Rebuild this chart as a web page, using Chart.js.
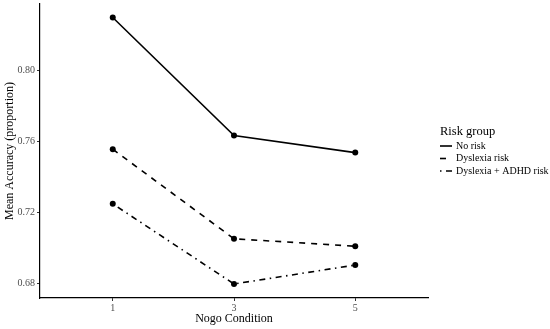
<!DOCTYPE html>
<html>
<head>
<meta charset="utf-8">
<script src="https://cdn.jsdelivr.net/npm/chart.js@4"></script>
<style>
  html, body { margin: 0; padding: 0; background: #fff; }
  #wrap { width: 550px; height: 329px; position: relative; }
</style>
</head>
<body>
<div id="wrap"><canvas id="chart"></canvas></div>
<script>
const conditions = [1, 3, 5];
const groups = ['No risk', 'Dyslexia risk', 'Dyslexia + ADHD risk'];
const noRisk = [0.830, 0.7634, 0.7538];
const dyslexiaRisk = [0.7557, 0.7052, 0.7010];
const dyslexiaAdhdRisk = [0.7249, 0.6797, 0.6904];
const yTicks = [0.68, 0.72, 0.76, 0.80];

const serif = '"Liberation Serif", "DejaVu Serif", serif';
const dashes = [[], [6, 6], [1.5, 4.5, 6, 4.5]];
const seriesValues = [noRisk, dyslexiaRisk, dyslexiaAdhdRisk];

const datasets = groups.map((name, i) => ({
    label: name,
    data: conditions.map((c, j) => ({ x: c, y: seriesValues[i][j] })),
    borderColor: '#000',
    backgroundColor: '#000',
    borderWidth: 1.6,
    borderDash: dashes[i],
    pointRadius: 3,
    pointHoverRadius: 3,
    pointBorderWidth: 0,
    showLine: true,
    tension: 0
}));

// legend drawn on the canvas in the reserved right margin
const sideLegend = {
    id: 'sideLegend',
    afterDraw(chart) {
        const ctx = chart.ctx;
        ctx.save();
        ctx.fillStyle = '#000';
        ctx.textBaseline = 'middle';
        ctx.textAlign = 'left';
        ctx.font = '12.5px ' + serif;
        ctx.fillText('Risk group', 440, 132);
        ctx.font = '10px ' + serif;
        chart.data.datasets.forEach((ds, i) => {
            const y = 146 + i * 12.5;
            ctx.beginPath();
            ctx.setLineDash(ds.borderDash);
            ctx.lineWidth = ds.borderWidth;
            ctx.strokeStyle = ds.borderColor;
            ctx.moveTo(440, y);
            ctx.lineTo(452, y);
            ctx.stroke();
            ctx.setLineDash([]);
            ctx.fillStyle = '#000';
            ctx.fillText(ds.label, 456, y);
        });
        ctx.restore();
    }
};

new Chart(document.getElementById('chart'), {
    type: 'scatter',
    data: { datasets: datasets },
    plugins: [sideLegend],
    options: {
        responsive: true,
        maintainAspectRatio: false,
        animation: false,
        layout: { padding: { top: 4, right: 122, bottom: 0, left: 0 } },
        plugins: {
            legend: { display: false },
            tooltip: { enabled: false }
        },
        scales: {
            x: {
                type: 'linear',
                min: -0.2,
                max: 6.2,
                afterBuildTicks: (scale) => {
                    scale.ticks = conditions.map(v => ({ value: v }));
                },
                afterFit: (scale) => {
                    scale.height = 31;
                    scale.paddingLeft = 0;
                    scale.paddingRight = 0;
                },
                grid: { display: true, drawOnChartArea: false, tickLength: 3, color: '#333' },
                border: { display: true, color: '#000', width: 1.2 },
                ticks: {
                    color: '#4d4d4d',
                    padding: 1,
                    font: { family: serif, size: 10 }
                },
                title: {
                    display: true,
                    text: 'Nogo Condition',
                    color: '#000',
                    padding: { top: 2, bottom: 3 },
                    font: { family: serif, size: 12 }
                }
            },
            y: {
                min: 0.6718,
                max: 0.8376,
                afterBuildTicks: (scale) => {
                    scale.ticks = yTicks.map(v => ({ value: v }));
                },
                afterFit: (scale) => {
                    scale.width = 40;
                    scale.paddingTop = 0;
                    scale.paddingBottom = 0;
                },
                grid: { display: true, drawOnChartArea: false, tickLength: 3, color: '#333' },
                border: { display: true, color: '#000', width: 1.2 },
                ticks: {
                    color: '#4d4d4d',
                    padding: 2,
                    font: { family: serif, size: 10 },
                    callback: (v) => v.toFixed(2)
                },
                title: {
                    display: true,
                    text: 'Mean Accuracy (proportion)',
                    color: '#000',
                    padding: { top: 3, bottom: 2 },
                    font: { family: serif, size: 12 }
                }
            }
        }
    }
});
</script>
</body>
</html>
